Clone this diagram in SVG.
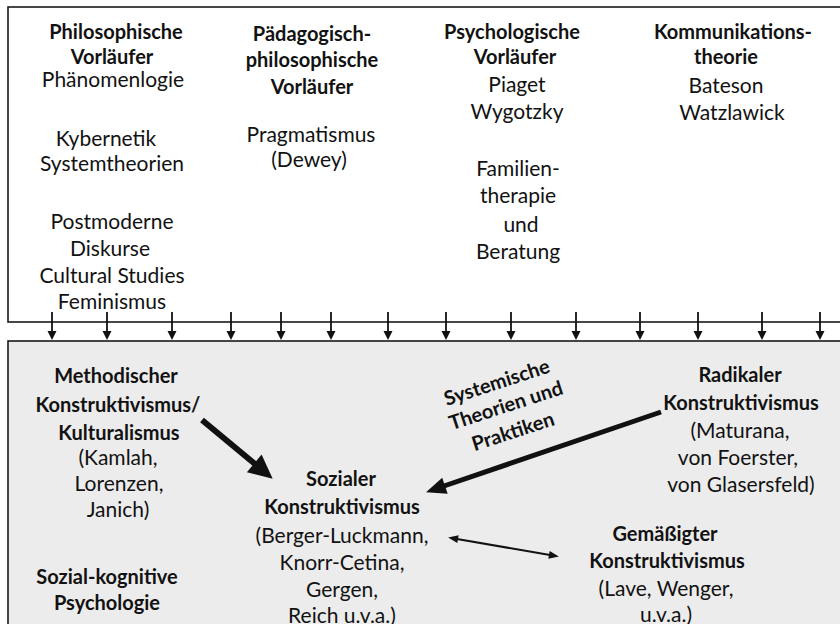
<svg xmlns="http://www.w3.org/2000/svg" width="840" height="624" viewBox="0 0 840 624">
<style>
text{font-family:Lato,"Liberation Sans",sans-serif;fill:#121212;text-anchor:middle}
.r{font-size:21px}
.b{font-size:20px;font-weight:bold}
.box{stroke:#1a1a1a;stroke-width:1.6}
.dn{stroke:#111;stroke-width:1.8;fill:none}
.thick{stroke:#111;fill:none}
</style>
<defs>
<marker id="hDown" markerUnits="userSpaceOnUse" markerWidth="10" markerHeight="10" viewBox="0 -5 10 10" refX="0" refY="0" orient="auto" overflow="visible"><path d="M0,-4.5 L9,0 L0,4.5 z" fill="#111"/></marker>
<marker id="hBig" markerUnits="userSpaceOnUse" markerWidth="26" markerHeight="24" viewBox="0 -12 26 24" refX="1" refY="0" orient="auto" overflow="visible"><path d="M0,-11.5 L24,0 L0,11.5 z" fill="#111"/></marker>
<marker id="hMed" markerUnits="userSpaceOnUse" markerWidth="22" markerHeight="20" viewBox="0 -10 22 20" refX="1" refY="0" orient="auto" overflow="visible"><path d="M0,-8.5 L20,0 L0,8.5 z" fill="#111"/></marker>
<marker id="hSm" markerUnits="userSpaceOnUse" markerWidth="12" markerHeight="10" viewBox="0 -5 12 10" refX="1" refY="0" orient="auto-start-reverse" overflow="visible"><path d="M0,-4 L10,0 L0,4 z" fill="#111"/></marker>
</defs>
<rect width="840" height="624" fill="#ffffff"/>
<rect id="top-box" class="box" x="8" y="7" width="850" height="315" fill="#ffffff"/>
<rect id="bottom-box" class="box" x="8" y="341" width="850" height="300" fill="#ececec"/>

<g id="col-philosophisch">
<text class="b" x="116" y="39">Philosophische</text>
<text class="b" x="112" y="64">Vorläufer</text>
<text class="r" x="113" y="87">Phänomenlogie</text>
<text class="r" x="106" y="146">Kybernetik</text>
<text class="r" x="112" y="171">Systemtheorien</text>
<text class="r" x="112" y="229">Postmoderne</text>
<text class="r" x="110" y="256">Diskurse</text>
<text class="r" x="112" y="283">Cultural Studies</text>
<text class="r" x="112" y="309">Feminismus</text>
</g>
<g id="col-paedagogisch">
<text class="b" x="312" y="41">Pädagogisch-</text>
<text class="b" x="312" y="67">philosophische</text>
<text class="b" x="312" y="94">Vorläufer</text>
<text class="r" x="311" y="142">Pragmatismus</text>
<text class="r" x="309" y="167">(Dewey)</text>
</g>
<g id="col-psychologisch">
<text class="b" x="512" y="39">Psychologische</text>
<text class="b" x="515" y="64">Vorläufer</text>
<text class="r" x="517" y="92">Piaget</text>
<text class="r" x="517" y="119">Wygotzky</text>
<text class="r" x="518" y="176">Familien-</text>
<text class="r" x="518" y="203">therapie</text>
<text class="r" x="521" y="232">und</text>
<text class="r" x="518" y="259">Beratung</text>
</g>
<g id="col-kommunikation">
<text class="b" x="733" y="39">Kommunikations-</text>
<text class="b" x="726" y="64">theorie</text>
<text class="r" x="726" y="93">Bateson</text>
<text class="r" x="732" y="120">Watzlawick</text>
</g>

<g id="methodischer">
<text class="b" x="116" y="383">Methodischer</text>
<text class="b" x="118" y="412">Konstruktivismus/</text>
<text class="b" x="119" y="440">Kulturalismus</text>
<text class="r" x="118" y="465">(Kamlah,</text>
<text class="r" x="119" y="491">Lorenzen,</text>
<text class="r" x="118" y="517">Janich)</text>
</g>
<g id="sozial-kognitiv">
<text class="b" x="107" y="584">Sozial-kognitive</text>
<text class="b" x="107" y="610">Psychologie</text>
</g>
<g id="sozialer">
<text class="b" x="341" y="486">Sozialer</text>
<text class="b" x="342" y="514">Konstruktivismus</text>
<text class="r" x="342" y="543">(Berger-Luckmann,</text>
<text class="r" x="342" y="570">Knorr-Cetina,</text>
<text class="r" x="342" y="597">Gergen,</text>
<text class="r" x="342" y="623">Reich u.v.a.)</text>
</g>
<g id="radikaler">
<text class="b" x="740" y="382">Radikaler</text>
<text class="b" x="741" y="410">Konstruktivismus</text>
<text class="r" x="740" y="438">(Maturana,</text>
<text class="r" x="738" y="465">von Foerster,</text>
<text class="r" x="741" y="492">von Glasersfeld)</text>
</g>
<g id="gemaessigter">
<text class="b" x="665" y="541">Gemäßigter</text>
<text class="b" x="667" y="568">Konstruktivismus</text>
<text class="r" x="666" y="596">(Lave, Wenger,</text>
<text class="r" x="666" y="622">u.v.a.)</text>
</g>

<g id="connectors">
<g class="dn" marker-end="url(#hDown)">
<line x1="52" y1="312" x2="52" y2="331"/>
<line x1="107" y1="312" x2="107" y2="331"/>
<line x1="172" y1="312" x2="172" y2="331"/>
<line x1="231" y1="312" x2="231" y2="331"/>
<line x1="281" y1="312" x2="281" y2="331"/>
<line x1="331" y1="312" x2="331" y2="331"/>
<line x1="388" y1="312" x2="388" y2="331"/>
<line x1="446" y1="312" x2="446" y2="331"/>
<line x1="511" y1="312" x2="511" y2="331"/>
<line x1="576" y1="312" x2="576" y2="331"/>
<line x1="640" y1="312" x2="640" y2="331"/>
<line x1="698" y1="312" x2="698" y2="331"/>
<line x1="762" y1="312" x2="762" y2="331"/>
<line x1="820" y1="312" x2="820" y2="331"/>
</g>
<line class="thick" x1="202" y1="420" x2="255" y2="464" stroke-width="6" marker-end="url(#hBig)"/>
<line class="thick" x1="661" y1="412" x2="444" y2="486" stroke-width="5" marker-end="url(#hMed)"/>
<line class="thick" x1="457" y1="539" x2="550" y2="555" stroke-width="2" marker-start="url(#hSm)" marker-end="url(#hSm)"/>
<g id="label-systemisch">
<text class="b" transform="translate(499,389) rotate(-18)">Systemische</text>
<text class="b" transform="translate(508,412) rotate(-18)">Theorien und</text>
<text class="b" transform="translate(515,438) rotate(-18)">Praktiken</text>
</g>
</g>
</svg>
